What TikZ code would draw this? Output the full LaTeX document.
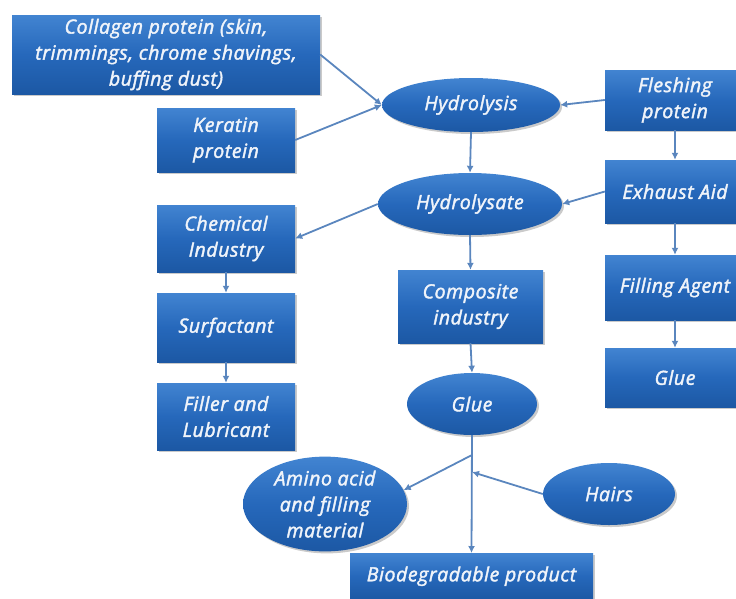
\documentclass[tikz,border=0pt]{standalone}
\usepackage{fontspec}
\setmainfont{Open Sans}
\newfontfamily\lblfont{Open Sans}[ItalicFeatures={FakeBold=2}, LetterSpace=3]
\usetikzlibrary{arrows.meta,shapes.geometric,shadows}
\definecolor{boxtop}{HTML}{4284D1}
\definecolor{boxmid}{HTML}{2668BB}
\definecolor{boxbot}{HTML}{1C58A4}
\definecolor{arrc}{HTML}{5A86BE}
\definecolor{txt}{HTML}{F0F4FA}
\tikzset{
  base/.style={top color=boxtop, bottom color=boxbot, middle color=boxmid, draw=none,
    text=txt, align=center, inner sep=0pt,
    font=\lblfont\fontsize{19.5}{26}\selectfont\itshape,
    drop shadow={shadow xshift=2pt, shadow yshift=-2pt, opacity=0.35, fill=black!60}},
  rbox/.style={base, rectangle, minimum width=#1},
  ebox/.style={base, ellipse, minimum width=#1},
  arr/.style={draw=arrc, line width=1.8pt, -{Latex[length=7pt,width=7pt]}}
}
\begin{document}
\begin{tikzpicture}[x=1pt,y=-1pt]
\useasboundingbox (0,0) rectangle (736,598);
\clip (0,0) rectangle (736,598);
% rectangles
\node[rbox=308, minimum height=79] (coll) at (166,54.5) {Collagen protein (skin,\\trimmings, chrome shavings,\\buffing dust)};
\node[rbox=138, minimum height=64] (ker) at (226,140) {Keratin\\protein};
\node[rbox=140, minimum height=60] (flesh) at (675,100) {Fleshing\\protein};
\node[rbox=140, minimum height=63] (exh) at (675,191.5) {Exhaust Aid};
\node[rbox=140, minimum height=65] (fill) at (675,287.5) {Filling Agent};
\node[rbox=140, minimum height=59] (glueR) at (675,377.5) {Glue};
\node[rbox=138, minimum height=67] (chem) at (226,238.5) {Chemical\\Industry};
\node[rbox=138, minimum height=69] (surf) at (226,327.5) {Surfactant};
\node[rbox=138, minimum height=67] (filler) at (226,416.5) {Filler and\\Lubricant};
\node[rbox=145, minimum height=73] (comp) at (470.5,306.5) {Composite\\industry};
\node[rbox=243, minimum height=46, anchor=north] (bio) at (471.5,553) {Biodegradable product};
% ellipses
\node[ebox=178, minimum height=54] (hyd) at (471,105) {Hydrolysis};
\node[ebox=184, minimum height=62] (hyd2) at (470,204) {Hydrolysate};
\node[ebox=130, minimum height=62] (glue) at (472,404) {Glue};
\node[ebox=164, minimum height=85] (amino) at (325,504) {Amino acid\\and filling\\material};
\node[ebox=132, minimum height=62] (hairs) at (609,494) {Hairs};
% junction points
\coordinate (j1) at (472,455);
\coordinate (j2) at (472,472);
% connectors
\draw[arr] (coll.east) -- (hyd.west);
\draw[arr] (ker.east) -- (hyd.west);
\draw[arr] (flesh.west) -- (hyd.east);
\draw[arr] (hyd.south) -- (hyd2.north);
\draw[arr] (flesh.south) -- (exh.north);
\draw[arr] (exh.west) -- (hyd2.east);
\draw[arr] (exh.south) -- (fill.north);
\draw[arr] (fill.south) -- (glueR.north);
\draw[arr] (hyd2.west) -- (chem.east);
\draw[arr] (chem.south) -- (surf.north);
\draw[arr] (surf.south) -- (filler.north);
\draw[arr] (hyd2.south) -- (comp.north);
\draw[arr] (comp.south) -- (glue.north);
\draw[arr] (glue.south) -- (bio.north);
\draw[arr] (j1) -- (amino.10);
\draw[arr] (hairs.west) -- (j2);
\end{tikzpicture}
\end{document}
